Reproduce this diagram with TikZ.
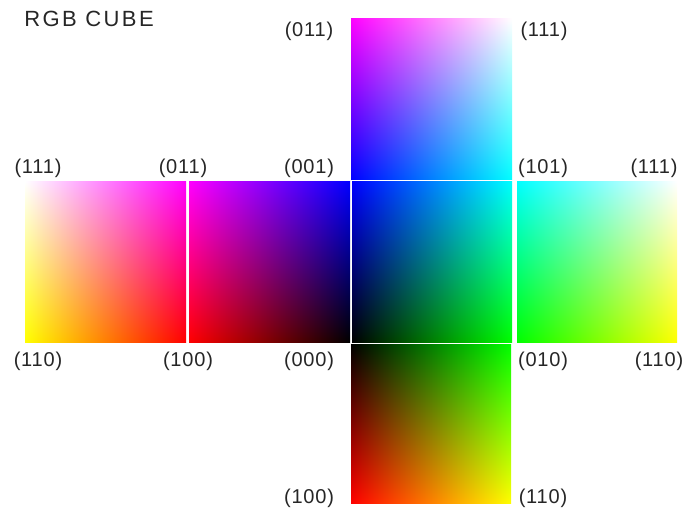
\documentclass[tikz,border=0pt]{standalone}
\usepackage{fontspec}
\setmainfont{Liberation Sans}
\newfontfamily\lblfont[LetterSpace=4]{Liberation Sans}
\newfontfamily\ttlfont[LetterSpace=11]{Liberation Sans}
% u v from shading coords (middle 50bp square is the path's box)
\def\uvprep{25 sub 50 div exch 25 sub 50 div exch }
\pgfdeclarefunctionalshading{facecenter}{\pgfpoint{0bp}{0bp}}{\pgfpoint{100bp}{100bp}}{}{\uvprep 0 3 1 roll}
\pgfdeclarefunctionalshading{facetop}{\pgfpoint{0bp}{0bp}}{\pgfpoint{100bp}{100bp}}{}{\uvprep exch 1}
\pgfdeclarefunctionalshading{faceleftb}{\pgfpoint{0bp}{0bp}}{\pgfpoint{100bp}{100bp}}{}{\uvprep exch 1 exch sub exch 0 exch}
\pgfdeclarefunctionalshading{facelefta}{\pgfpoint{0bp}{0bp}}{\pgfpoint{100bp}{100bp}}{}{\uvprep exch 1 exch sub exch 1 3 1 roll}
\pgfdeclarefunctionalshading{faceright}{\pgfpoint{0bp}{0bp}}{\pgfpoint{100bp}{100bp}}{}{\uvprep 1 exch}
\pgfdeclarefunctionalshading{facebottom}{\pgfpoint{0bp}{0bp}}{\pgfpoint{100bp}{100bp}}{}{\uvprep 1 exch sub exch 0}
\tikzset{
  lbl/.style={inner sep=0pt, font=\lblfont\fontsize{20}{22}\selectfont, text=black!85},
  ttl/.style={inner sep=0pt, font=\ttlfont\fontsize{22}{24}\selectfont, text=black!85},
}
\begin{document}
\begin{tikzpicture}[x=1pt,y=-1pt]
\fill[white] (0,0) rectangle (684,510);
\useasboundingbox (0,0) rectangle (684,510);
% faces
\shade[shading=facetop] (351,19) rectangle (512,180);
\shade[shading=facelefta] (25,182) rectangle (186,342);
\shade[shading=faceleftb] (189,182) rectangle (350,342);
\shade[shading=facecenter] (352,182) rectangle (512,342);
\shade[shading=faceright] (517,182) rectangle (677,342);
\shade[shading=facebottom] (351,344) rectangle (511,503);
% title
\node[ttl] (title) at (89,19) {RGB CUBE};
% top face labels
\node[lbl] (ta) at (309,31) {(011)};
\node[lbl] (tb) at (544,31) {(111)};
% upper row labels
\node[lbl] (ua) at (38,168) {(111)};
\node[lbl] (ub) at (183,168) {(011)};
\node[lbl] (uc) at (309,168) {(001)};
\node[lbl] (ud) at (543,168) {(101)};
\node[lbl] (ue) at (654,168) {(111)};
% lower row labels
\node[lbl] (la) at (38,361) {(110)};
\node[lbl] (lb) at (188,361) {(100)};
\node[lbl] (lc) at (309,361) {(000)};
\node[lbl] (ld) at (543,361) {(010)};
\node[lbl] (le) at (659,361) {(110)};
% bottom face labels
\node[lbl] (ba) at (309,498) {(100)};
\node[lbl] (bb) at (543,498) {(110)};
\end{tikzpicture}
\end{document}
